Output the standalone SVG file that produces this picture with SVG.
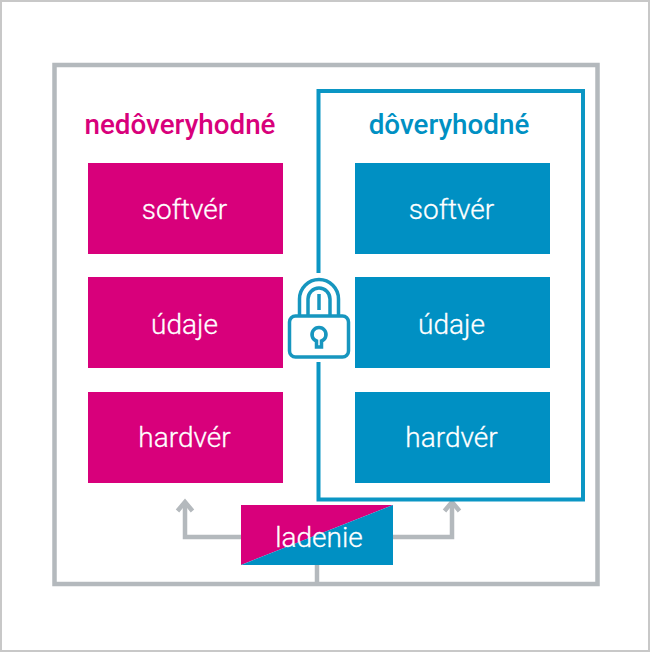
<svg xmlns="http://www.w3.org/2000/svg" width="650" height="652" viewBox="0 0 650 652">
<style>
.lbl{font-family:"Roboto","Liberation Sans",sans-serif;font-size:28px;font-weight:300;fill:#fff;stroke:#fff;stroke-width:.3;text-anchor:middle}
.hd{font-family:"Roboto","Liberation Sans",sans-serif;font-size:27.8px;font-weight:500;text-anchor:middle}
.m{fill:#d8007b}.b{fill:#0090c3}
.g{fill:none;stroke:#b4b9bd;stroke-width:4.500}
.lk{fill:none;stroke:#1796bf;stroke-width:3.500}
</style>
<rect x="0" y="0" width="650" height="652" fill="#fff"/>
<rect x="1" y="1" width="648" height="650" fill="none" stroke="#c8c8c8" stroke-width="2"/>
<g id="connectors">
<rect class="g" x="54.500" y="65" width="543" height="519"/>
<path class="g" d="M317 584V565"/>
<path class="g" d="M241 537H185V503"/>
<path class="g" d="M177.500 511L185 502L192.500 511" stroke-width="5"/>
<path class="g" d="M393 537H452V503"/>
<path class="g" d="M444.500 511L452 502L459.500 511" stroke-width="5"/>
</g>
<g id="trusted-frame"><path d="M318.500 273V91H583V499.500H318.500V362" fill="none" stroke="#0b96c4" stroke-width="4"/></g>
<g id="title-untrusted"><text class="hd m" x="180" y="134">nedôveryhodné</text></g>
<g id="title-trusted"><text class="hd b" x="449" y="134">dôveryhodné</text></g>
<g id="u-soft"><rect class="m" x="88" y="163" width="195" height="91"/><text class="lbl" x="184.500" y="219">softvér</text></g>
<g id="u-data"><rect class="m" x="88" y="277" width="195" height="91"/><text class="lbl" x="184.500" y="334">údaje</text></g>
<g id="u-hw"><rect class="m" x="88" y="392" width="195" height="91"/><text class="lbl" x="184.500" y="447">hardvér</text></g>
<g id="t-soft"><rect class="b" x="355" y="163" width="195" height="91"/><text class="lbl" x="451.500" y="219">softvér</text></g>
<g id="t-data"><rect class="b" x="355" y="277" width="195" height="91"/><text class="lbl" x="451.500" y="334">údaje</text></g>
<g id="t-hw"><rect class="b" x="355" y="392" width="195" height="91"/><text class="lbl" x="451.500" y="447">hardvér</text></g>
<g id="lock">
<rect class="lk" x="289.500" y="316" width="59" height="41" rx="6"/>
<path class="lk" d="M299.500 315V299a19.500 19.500 0 0 1 39 0V315"/>
<path class="lk" d="M308 315V299a11 11 0 0 1 22 0V315"/>
<path class="lk" d="M319 294V310"/>
<path class="lk" d="M316.500 347V341a7 7 0 1 1 5 0V347Z" stroke-width="2.800"/>
</g>
<g id="debug">
<polygon class="m" points="241,505 393,505 241,565"/>
<polygon class="b" points="393,505 393,565 241,565"/>
<text class="lbl" x="319" y="547">ladenie</text>
</g>
</svg>
